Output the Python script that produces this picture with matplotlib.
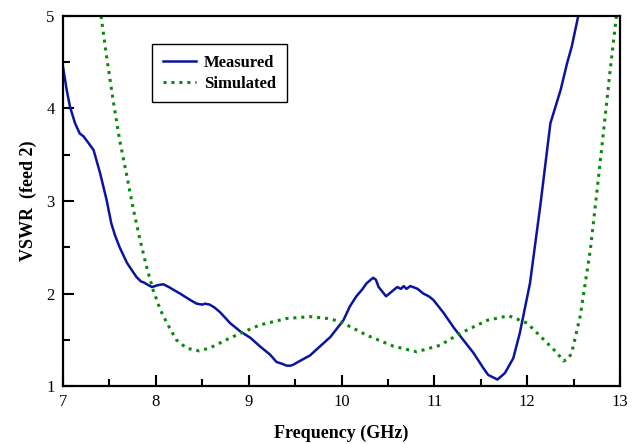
import matplotlib.pyplot as plt
from matplotlib.ticker import MultipleLocator

plt.rcParams['font.family'] = ['Liberation Serif', 'DejaVu Serif']

# Measured VSWR (feed 2)
meas_f = [7.0, 7.04, 7.075, 7.13, 7.18, 7.22, 7.28, 7.33, 7.40, 7.47, 7.52, 7.56, 7.61,
          7.69, 7.79, 7.84, 7.87, 7.92, 7.96, 8.02, 8.08, 8.14, 8.19, 8.26, 8.37, 8.44,
          8.50, 8.53, 8.58, 8.63, 8.69, 8.80, 8.91, 9.02, 9.12, 9.23, 9.30, 9.36, 9.41,
          9.45, 9.48, 9.55, 9.66, 9.77, 9.88, 9.95, 10.02, 10.09, 10.16, 10.22, 10.27,
          10.34, 10.37, 10.40, 10.44, 10.48, 10.54, 10.60, 10.64, 10.67, 10.70, 10.74,
          10.77, 10.82, 10.88, 10.94, 10.99, 11.10, 11.21, 11.31, 11.42, 11.53, 11.58,
          11.62, 11.68, 11.76, 11.85, 11.92, 12.03, 12.14, 12.25, 12.36, 12.43, 12.48,
          12.55]
meas_v = [4.45, 4.20, 4.02, 3.84, 3.73, 3.70, 3.62, 3.55, 3.30, 3.01, 2.76, 2.63, 2.50,
          2.33, 2.18, 2.13, 2.12, 2.09, 2.07, 2.09, 2.10, 2.07, 2.04, 2.00, 1.93, 1.89,
          1.88, 1.89, 1.88, 1.85, 1.80, 1.68, 1.59, 1.52, 1.43, 1.34, 1.26, 1.24, 1.22,
          1.22, 1.23, 1.27, 1.33, 1.43, 1.53, 1.62, 1.71, 1.86, 1.97, 2.04, 2.11,
          2.17, 2.15, 2.07, 2.02, 1.97, 2.02, 2.07, 2.05, 2.08, 2.05, 2.08,
          2.07, 2.05, 2.00, 1.97, 1.93, 1.79, 1.63, 1.50, 1.36, 1.19, 1.12,
          1.10, 1.07, 1.14, 1.30, 1.57, 2.11, 2.94, 3.84, 4.20, 4.49, 4.67,
          5.00]

# Simulated VSWR
sim_f = [7.41, 7.47, 7.54, 7.61, 7.69, 7.76, 7.83, 7.90, 7.97, 8.05, 8.12, 8.22, 8.33,
         8.46, 8.58, 8.76, 8.91, 9.12, 9.41, 9.66, 9.85, 9.98, 10.27, 10.56, 10.81,
         11.06, 11.28, 11.57, 11.80, 12.00, 12.18, 12.32, 12.39, 12.44, 12.48, 12.57,
         12.68, 12.75, 12.82, 12.89, 12.96]
sim_v = [5.00, 4.56, 4.09, 3.66, 3.26, 2.90, 2.58, 2.29, 2.04, 1.82, 1.68, 1.50, 1.41,
         1.38, 1.41, 1.50, 1.57, 1.66, 1.73, 1.75, 1.73, 1.70, 1.55, 1.43, 1.37,
         1.44, 1.57, 1.71, 1.76, 1.68, 1.50, 1.36, 1.27, 1.29, 1.36, 1.75,
         2.47, 3.09, 3.73, 4.38, 4.99]

fig = plt.figure(figsize=(6.33, 4.44), dpi=100)
ax = fig.add_axes([0.0995, 0.1306, 0.88, 0.8334])

ax.plot(meas_f, meas_v, color='#0a14a0', lw=1.8, label='Measured')
ax.plot(sim_f, sim_v, color='#0a8a0a', lw=2.2, linestyle=(0, (1, 1.6)), label='Simulated')

ax.set_xlim(7, 13)
ax.set_ylim(1, 5)
ax.xaxis.set_major_locator(MultipleLocator(1))
ax.xaxis.set_minor_locator(MultipleLocator(0.5))
ax.yaxis.set_major_locator(MultipleLocator(1))
ax.yaxis.set_minor_locator(MultipleLocator(0.5))
ax.tick_params(which='both', direction='in', top=False, right=False, width=1.5, labelsize=12)
ax.tick_params(which='major', length=8, pad=6)
ax.tick_params(which='minor', length=5)
for s in ax.spines.values():
    s.set_linewidth(1.6)

ax.set_xlabel('Frequency (GHz)', fontsize=13, fontweight='bold', labelpad=10)
ax.set_ylabel('VSWR  (feed 2)', fontsize=13, fontweight='bold', labelpad=7)

leg = ax.legend(loc='upper left', bbox_to_anchor=(0.16, 0.925), borderaxespad=0,
                fancybox=False, edgecolor='black', framealpha=1, handlelength=2.0,
                borderpad=0.65, labelspacing=0.3, handletextpad=0.45,
                prop={'weight': 'bold', 'size': 12})
leg.get_frame().set_linewidth(1.0)

fig.savefig('out.png', dpi=100)
